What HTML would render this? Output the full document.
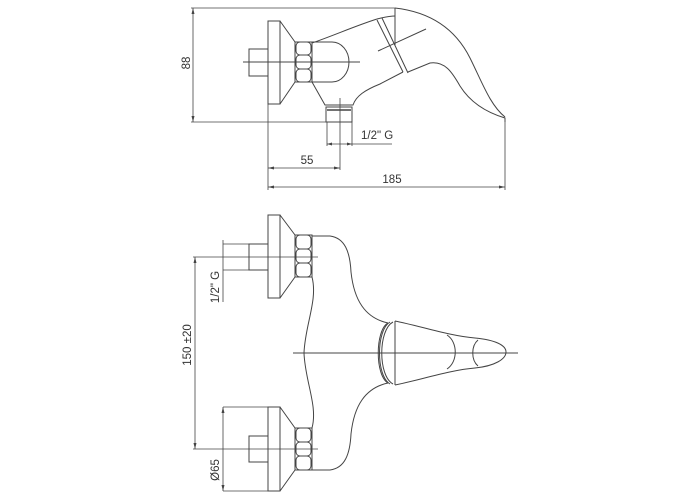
<!DOCTYPE html>
<html><head><meta charset="utf-8"><style>
html,body{margin:0;padding:0;background:#fff;}
svg{display:block}
text{font-family:"Liberation Sans","DejaVu Sans",sans-serif;font-size:11.5px;fill:#333}
</style></head><body>
<svg width="700" height="500" viewBox="0 0 700 500" fill="none" stroke="#444" stroke-width="1">
<!-- ===== TOP VIEW ===== -->
<line x1="191" y1="8" x2="395" y2="8" stroke-width="0.8"/>
<line x1="191" y1="122" x2="327" y2="122" stroke-width="0.8"/>
<line x1="193" y1="8" x2="193" y2="122" stroke-width="0.8"/>
<path d="M193 8 l-1.5 6 h3z M193 122 l-1.5 -6 h3z" fill="#444" stroke="none"/>
<text x="0" y="0" transform="translate(190,63) rotate(-90)" text-anchor="middle" stroke="none">88</text>
<path d="M268 49 H249 V76 H268"/>
<rect x="268" y="21" width="12" height="83"/>
<path d="M280 21 L295 42 M280 104 L295 82"/>
<rect x="295" y="42" width="17" height="40"/>
<rect x="296" y="42" width="15" height="13" rx="4"/>
<rect x="296" y="55" width="15" height="14" rx="4"/>
<rect x="296" y="69" width="15" height="13" rx="4"/>
<path d="M312 42 H332 A17 20 0 0 1 332 82 H312"/>
<line x1="243" y1="62" x2="360" y2="62"/>
<path d="M312 43 C335 35 355 26 377 19"/>
<path d="M377 19 C385 17 390 16 395 16"/>
<path d="M312 82 L325 105 H353 C356 96 365 90 380 84 L403 72"/>
<path d="M377 20 L403 72 M382 18 L408 73"/>
<line x1="378" y1="51" x2="426" y2="29"/>
<path d="M395 8 V45"/>
<path d="M395 8 C430 12 455 28 470 58 C482 82 490 105 505 117"/>
<path d="M408 72 L430 63 C445 61 452 72 460 86 C470 102 485 112 505 118 V122"/>
<rect x="326" y="107" width="26" height="15"/>
<line x1="327" y1="110" x2="351" y2="110" stroke-width="1.5"/>
<line x1="340" y1="98" x2="340" y2="170" stroke-width="0.8"/>
<line x1="327" y1="122" x2="327" y2="146" stroke-width="0.8"/>
<line x1="352" y1="122" x2="352" y2="146" stroke-width="0.8"/>
<line x1="327" y1="144" x2="392" y2="144" stroke-width="0.8"/>
<path d="M327 144 l5 -1.5 v3z M352 144 l-5 -1.5 v3z" fill="#444" stroke="none"/>
<text x="361" y="139" stroke="none">1/2" G</text>
<line x1="268" y1="104" x2="268" y2="190" stroke-width="0.8"/>
<line x1="268" y1="168" x2="340" y2="168" stroke-width="0.8"/>
<path d="M268 168 l6 -1.5 v3z M340 168 l-6 -1.5 v3z" fill="#444" stroke="none"/>
<text x="307" y="164" text-anchor="middle" stroke="none">55</text>
<line x1="505" y1="118" x2="505" y2="190" stroke-width="0.8"/>
<line x1="268" y1="187" x2="505" y2="187" stroke-width="0.8"/>
<path d="M268 187 l6 -1.5 v3z M505 187 l-6 -1.5 v3z" fill="#444" stroke="none"/>
<text x="392" y="183" text-anchor="middle" stroke="none">185</text>

<!-- ===== FRONT VIEW ===== -->
<path d="M268 244 H249 V270 H268"/>
<rect x="268" y="215" width="12" height="83"/>
<path d="M280 215 L295 235 M280 298 L295 277"/>
<rect x="295" y="235" width="17" height="42"/>
<rect x="296" y="235" width="15" height="14" rx="4"/>
<rect x="296" y="249" width="15" height="14" rx="4"/>
<rect x="296" y="263" width="15" height="14" rx="4"/>
<line x1="193" y1="257" x2="318" y2="257" stroke-width="0.8"/>
<line x1="223" y1="244" x2="249" y2="244" stroke-width="0.8"/>
<line x1="223" y1="270" x2="249" y2="270" stroke-width="0.8"/>
<line x1="223" y1="240" x2="223" y2="302" stroke-width="0.8"/>
<text x="0" y="0" transform="translate(219,287) rotate(-90)" text-anchor="middle" stroke="none">1/2" G</text>
<path d="M268 436 H249 V462 H268"/>
<rect x="268" y="407" width="12" height="84"/>
<path d="M280 407 L295 428 M280 491 L295 470"/>
<rect x="295" y="428" width="17" height="42"/>
<rect x="296" y="428" width="15" height="14" rx="4"/>
<rect x="296" y="442" width="15" height="14" rx="4"/>
<rect x="296" y="456" width="15" height="14" rx="4"/>
<line x1="193" y1="449" x2="318" y2="449" stroke-width="0.8"/>
<line x1="223" y1="407" x2="268" y2="407" stroke-width="0.8"/>
<line x1="223" y1="491" x2="268" y2="491" stroke-width="0.8"/>
<line x1="223" y1="407" x2="223" y2="491" stroke-width="0.8"/>
<path d="M223 407 l-1.5 6 h3z M223 491 l-1.5 -6 h3z" fill="#444" stroke="none"/>
<text x="0" y="0" transform="translate(219,470) rotate(-90)" text-anchor="middle" stroke="none">Ø65</text>
<line x1="195" y1="257" x2="195" y2="449" stroke-width="0.8"/>
<path d="M195 257 l-1.5 6 h3z M195 449 l-1.5 -6 h3z" fill="#444" stroke="none"/>
<text x="0" y="0" transform="translate(191,345) rotate(-90)" text-anchor="middle" stroke="none">150 ±20</text>
<path d="M312 236 H330 C345 238 350 252 351 272 C354 300 365 318 388 323"/>
<path d="M312 470 H330 C345 468 350 454 351 434 C354 406 365 388 388 383"/>
<path d="M312 277 C318 300 305 325 304 353 C305 381 318 406 312 428"/>
<path d="M388 323 C375 330 375 376 388 383"/>
<path d="M393 322 C378 330 378 376 393 384"/>
<path d="M390 322 C376 330 376 376 390 384"/>
<path d="M395 321 V385"/>
<path d="M395 321 C420 326 450 336 475 338 C495 340 506 345 506 352 C506 359 495 366 475 368 C450 370 420 380 395 385"/>
<path d="M447 335 C458 342 458 362 447 369"/>
<path d="M478 340 C471 346 471 360 478 366"/>
<line x1="293" y1="353" x2="518" y2="353"/>
</svg>
</body></html>
